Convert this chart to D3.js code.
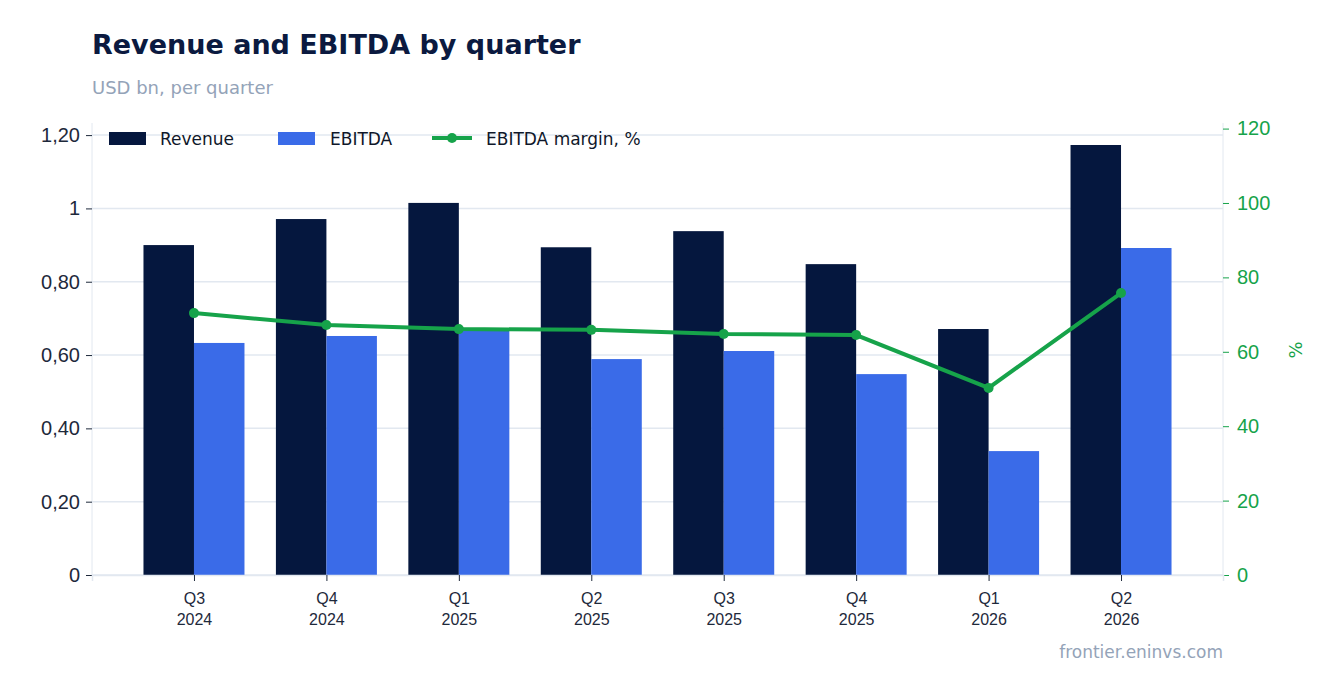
<!DOCTYPE html><html><head><meta charset="utf-8"><script src="https://cdn.jsdelivr.net/npm/d3@7"></script>
<style>body{margin:0;background:#fff;font-family:"DejaVu Sans",sans-serif}</style></head><body><svg id="c" width="1336" height="693"></svg>
<script>
const categories=["Q3 2024","Q4 2024","Q1 2025","Q2 2025","Q3 2025","Q4 2025","Q1 2026","Q2 2026"];
const revenue=[0.90,0.971,1.015,0.894,0.938,0.848,0.671,1.173];
const ebitda=[0.633,0.652,0.668,0.589,0.611,0.548,0.338,0.892];
const margin=[70.4,67.2,66.1,65.9,64.8,64.5,50.3,75.8];
const leftTicks=[0,0.2,0.4,0.6,0.8,1,1.2];
const leftTickLabels=["0","0,20","0,40","0,60","0,80","1","1,20"];
const rightTicks=[0,20,40,60,80,100,120];
const svg=d3.select("#c");
const L=92,R=1223,T=123,B=575;
const x=d3.scalePoint().domain(categories).range([L,R]).padding(0.77);
const y=d3.scaleLinear().domain([0,1.233]).range([B,T]);
const y2=d3.scaleLinear().domain([0,121.5]).range([B,T]);
const bw=50.5;
svg.append("text").attr("x",92).attr("y",54).attr("font-size",27).attr("font-weight","bold").attr("fill","#0b1a40").text("Revenue and EBITDA by quarter");
svg.append("text").attr("x",92).attr("y",94).attr("font-size",18).attr("fill","#94a3b8").text("USD bn, per quarter");
svg.append("g").selectAll("line").data(leftTicks).join("line").attr("x1",L).attr("x2",R).attr("y1",d=>y(d)).attr("y2",d=>y(d)).attr("stroke","#e2e8f0").attr("stroke-width",1.5);
svg.append("line").attr("x1",L).attr("x2",L).attr("y1",T).attr("y2",B).attr("stroke","#e2e8f0");
svg.append("line").attr("x1",R).attr("x2",R).attr("y1",T).attr("y2",B).attr("stroke","#e2e8f0");
svg.append("g").selectAll("rect").data(revenue).join("rect").attr("x",(d,i)=>x(categories[i])-bw).attr("width",bw).attr("y",d=>y(d)).attr("height",d=>B-y(d)).attr("fill","#05173e");
svg.append("g").selectAll("rect").data(ebitda).join("rect").attr("x",(d,i)=>x(categories[i])).attr("width",bw).attr("y",d=>y(d)).attr("height",d=>B-y(d)).attr("fill","#3a6be8");
const la=svg.append("g").attr("transform",`translate(${L},0)`).call(d3.axisLeft(y).tickValues(leftTicks).tickFormat((d,i)=>leftTickLabels[i]).tickSize(6).tickPadding(6));
la.select(".domain").remove();la.selectAll("text").attr("font-size",20).attr("fill","#1e293b");la.selectAll("line").attr("stroke","#1e293b");
const ra=svg.append("g").attr("transform",`translate(${R},0)`).call(d3.axisRight(y2).tickValues(rightTicks).tickSize(6).tickPadding(8));
ra.select(".domain").remove();ra.selectAll("text").attr("font-size",20).attr("fill","#16a34a");ra.selectAll("line").attr("stroke","#16a34a");
svg.append("text").attr("transform","translate(1302,350) rotate(-90)").attr("text-anchor","middle").attr("font-size",18).attr("fill","#16a34a").text("%");
const xa=svg.append("g").attr("transform",`translate(0,${B})`).call(d3.axisBottom(x).tickSize(6).tickFormat(""));
xa.select(".domain").attr("stroke","#e2e8f0").attr("stroke-width",1.5);xa.selectAll("line").attr("stroke","#1e293b");
xa.selectAll(".tick").each(function(d){const p=d.split(" ");const t=d3.select(this).append("text").attr("fill","#1e293b").attr("font-size",16).attr("text-anchor","middle");
t.append("tspan").attr("x",0).attr("y",29).text(p[0]);t.append("tspan").attr("x",0).attr("y",50).text(p[1]);});
const line=d3.line().x((d,i)=>x(categories[i])).y(d=>y2(d));
svg.append("path").datum(margin).attr("d",line).attr("fill","none").attr("stroke","#16a34a").attr("stroke-width",4);
svg.append("g").selectAll("circle").data(margin).join("circle").attr("cx",(d,i)=>x(categories[i])).attr("cy",d=>y2(d)).attr("r",5).attr("fill","#16a34a");
const lg=svg.append("g").attr("font-size",17).attr("fill","#0f172a");
lg.append("rect").attr("x",109).attr("y",132).attr("width",37).attr("height",13).attr("fill","#05173e");
lg.append("text").attr("x",160).attr("y",145).text("Revenue");
lg.append("rect").attr("x",278).attr("y",132).attr("width",37).attr("height",13).attr("fill","#3a6be8");
lg.append("text").attr("x",330).attr("y",145).text("EBITDA");
lg.append("line").attr("x1",432).attr("x2",472).attr("y1",138).attr("y2",138).attr("stroke","#16a34a").attr("stroke-width",4);
lg.append("circle").attr("cx",452).attr("cy",138).attr("r",5).attr("fill","#16a34a");
lg.append("text").attr("x",486).attr("y",145).text("EBITDA margin, %");
svg.append("text").attr("x",1223).attr("y",658).attr("text-anchor","end").attr("font-size",17).attr("fill","#94a3b8").text("frontier.eninvs.com");
</script></body></html>
